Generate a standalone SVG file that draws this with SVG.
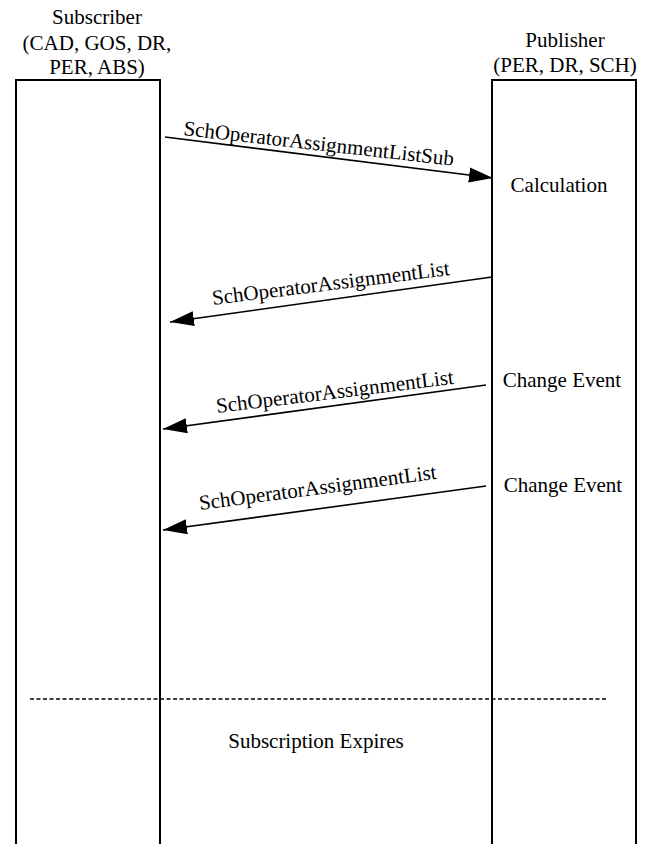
<svg xmlns="http://www.w3.org/2000/svg" width="648" height="844" viewBox="0 0 648 844">
  <style>
    text { font-family: "Liberation Serif", "Times New Roman", serif; font-size: 21px; fill: #000; }
    .life { fill: #fff; stroke: #000; stroke-width: 2; }
    .msg { stroke: #000; stroke-width: 1.6; fill: none; marker-end: url(#head); }
    .sep { stroke: #000; stroke-width: 1.5; stroke-dasharray: 4 2.5; fill: none; }
  </style>
  <defs>
    <marker id="head" markerUnits="userSpaceOnUse" markerWidth="24" markerHeight="16" refX="24" refY="8" orient="auto">
      <path d="M0,0.5 L24,8 L0,15.5 z" fill="#000"/>
    </marker>
  </defs>
  <rect width="648" height="844" fill="#fff"/>

  <!-- Subscriber lifeline -->
  <g id="subscriber">
    <rect class="life" x="16" y="80" width="144" height="790"/>
    <text x="97" y="24" text-anchor="middle">Subscriber</text>
    <text x="97" y="50" text-anchor="middle">(CAD, GOS, DR,</text>
    <text x="97" y="74" text-anchor="middle">PER, ABS)</text>
  </g>

  <!-- Publisher lifeline -->
  <g id="publisher">
    <rect class="life" x="492" y="80" width="144" height="790"/>
    <text x="565" y="47" text-anchor="middle">Publisher</text>
    <text x="565" y="72" text-anchor="middle">(PER, DR, SCH)</text>
    <text x="559" y="192" text-anchor="middle">Calculation</text>
    <text x="562" y="387" text-anchor="middle">Change Event</text>
    <text x="563" y="492" text-anchor="middle">Change Event</text>
  </g>

  <!-- Messages -->
  <g id="connectors">
    <line class="msg" x1="165" y1="137" x2="493" y2="178"/>
    <line class="msg" x1="492" y1="277" x2="170" y2="322"/>
    <line class="msg" x1="486" y1="385" x2="163" y2="429"/>
    <line class="msg" x1="486" y1="486" x2="163" y2="530"/>
    <line class="sep" x1="30" y1="699" x2="608" y2="699"/>
  </g>

  <!-- Message labels -->
  <g id="labels">
    <text transform="translate(183,135) rotate(6.5)">SchOperatorAssignmentListSub</text>
    <text transform="translate(213,305) rotate(-7.2)">SchOperatorAssignmentList</text>
    <text transform="translate(217,413) rotate(-7)">SchOperatorAssignmentList</text>
    <text transform="translate(200,510) rotate(-7.5)">SchOperatorAssignmentList</text>
    <text x="316" y="748" text-anchor="middle">Subscription Expires</text>
  </g>
</svg>
